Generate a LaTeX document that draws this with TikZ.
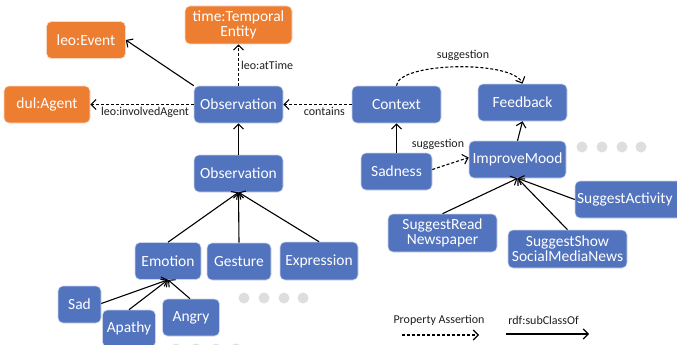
\documentclass[tikz,border=0pt]{standalone}
\usepackage{fontspec}
\setmainfont{Carlito}
\usetikzlibrary{arrows.meta}
\definecolor{nblue}{RGB}{82,115,190}
\definecolor{norange}{RGB}{237,125,49}
\definecolor{dotgray}{RGB}{222,222,222}
\definecolor{lbl}{RGB}{30,30,30}
\tikzset{
  box/.style={rounded corners=5pt, draw=white!70!nblue, line width=0.6pt, text=white,
    font=\fontsize{15.5}{15}\selectfont, align=center, inner sep=1pt},
  bluebox/.style={box, fill=nblue},
  orangebox/.style={box, fill=norange, draw=white!70!norange},
  lab/.style={font=\fontsize{12}{12}\selectfont, text=lbl, inner sep=1pt},
  conn/.style={line width=1.1pt, -{Straight Barb[length=5pt,width=10pt,line width=1.1pt]}},
  prop/.style={conn, dash pattern=on 3pt off 2pt},
  sub/.style={conn},
  dotc/.style={circle, fill=dotgray, minimum size=11pt, inner sep=0pt},
}
\begin{document}
\begin{tikzpicture}[x=1pt,y=-1pt]
\useasboundingbox (0,0) rectangle (677,345);
\clip (0,0) rectangle (677,345);
% orange
\node[orangebox, minimum width=79pt, minimum height=37pt] (event) at (86,40) {leo:Event};
\node[orangebox, minimum width=107pt, minimum height=38pt] (time) at (238.5,25) {time:Temporal\\Entity};
\node[orangebox, minimum width=86pt, minimum height=37pt] (agent) at (47,104.5) {dul:Agent};
% blue
\node[bluebox, minimum width=89pt, minimum height=37pt] (obs1) at (238.5,104.5) {Observation};
\node[bluebox, minimum width=89pt, minimum height=37pt] (obs2) at (238.5,173.5) {Observation};
\node[bluebox, minimum width=89pt, minimum height=37pt] (context) at (396.5,104.5) {Context};
\node[bluebox, minimum width=89pt, minimum height=37pt] (feedback) at (522.5,102.5) {Feedback};
\node[bluebox, minimum width=97pt, minimum height=37pt] (improve) at (517.5,159.5) {ImproveMood};
\node[bluebox, minimum width=71pt, minimum height=37pt] (sadness) at (396.5,171.5) {Sadness};
\node[bluebox, minimum width=115pt, minimum height=37pt, text width=111pt, align=left] (activity) at (632.5,199.5) {SuggestActivity};
\node[bluebox, minimum width=109pt, minimum height=38pt] (read) at (442.5,233) {SuggestRead\\Newspaper};
\node[bluebox, minimum width=119pt, minimum height=38pt] (show) at (567.5,249) {SuggestShow\\SocialMediaNews};
\node[bluebox, minimum width=66pt, minimum height=37pt] (emotion) at (168,261) {Emotion};
\node[bluebox, minimum width=64pt, minimum height=37pt] (gesture) at (239,261.5) {Gesture};
\node[bluebox, minimum width=78pt, minimum height=38pt] (expression) at (319,261) {Expression};
\node[bluebox, minimum width=43pt, minimum height=37pt] (sad) at (79.5,304.5) {Sad};
\node[bluebox, minimum width=53pt, minimum height=37pt] (apathy) at (129,328.5) {Apathy};
\node[bluebox, minimum width=57pt, minimum height=37pt] (angry) at (191,317.5) {Angry};
% dots
\foreach \i/\x in {1/582,2/602,3/622,4/641} \node[dotc] (dr\i) at (\x,147) {};
\foreach \i/\x in {1/244,2/264,3/284,4/303} \node[dotc] (dm\i) at (\x,298) {};
\foreach \i/\x in {1/176,2/196,3/216,4/236} \node[dotc] (db\i) at (\x,349) {};
% connectors
\draw[sub] (obs1.north west) -- (event.east);
\draw[prop] (obs1.north) -- (time.south) node[lab, pos=0.5, anchor=west, xshift=1pt] (tlab) {leo:atTime};
\draw[prop] (obs1.west) -- (agent.east) node[lab, pos=0.47, below, yshift=-1pt] (alab) {leo:involvedAgent};
\draw[prop] (context.west) -- (obs1.east) node[lab, pos=0.4, below, yshift=-1pt] (clab) {contains};
\draw[prop] (context.north) .. controls (398,62) and (512,60) .. (feedback.north);
\node[lab] (slab1) at (463,55) {suggestion};
\draw[sub] (sadness.north) -- (context.south);
\draw[prop] ([yshift=2pt]sadness.east) -- ([yshift=2pt]improve.west);
\node[lab] (slab2) at (438,144) {suggestion};
\draw[sub] (improve.north) -- (feedback.south);
\draw[sub] (obs2.north) -- (obs1.south);
\draw[sub] (emotion.north) -- (obs2.south);
\draw[sub] (gesture.north) -- (obs2.south);
\draw[sub] (expression.north) -- (obs2.south);
\draw[sub] ([yshift=1pt]sad.east) -- (emotion.south);
\draw[sub] (apathy.north) -- (emotion.south);
\draw[sub] ([xshift=-1pt]angry.north) -- (emotion.south);
\draw[sub] (read.north) -- (improve.south);
\draw[sub] (show.north) -- (improve.south);
\draw[sub] (activity.west) -- (improve.south);
% legend
\node[lab] (lg1) at (439,320) {Property Assertion};
\node[lab] (lg2) at (543.5,320) {rdf:subClassOf};
\coordinate (la1) at (402,335);
\coordinate (la2) at (479,335);
\coordinate (lb1) at (506,334);
\coordinate (lb2) at (589,334);
\draw[prop] (la1) -- (la2);
\draw[sub] (lb1) -- (lb2);
\end{tikzpicture}
\end{document}
